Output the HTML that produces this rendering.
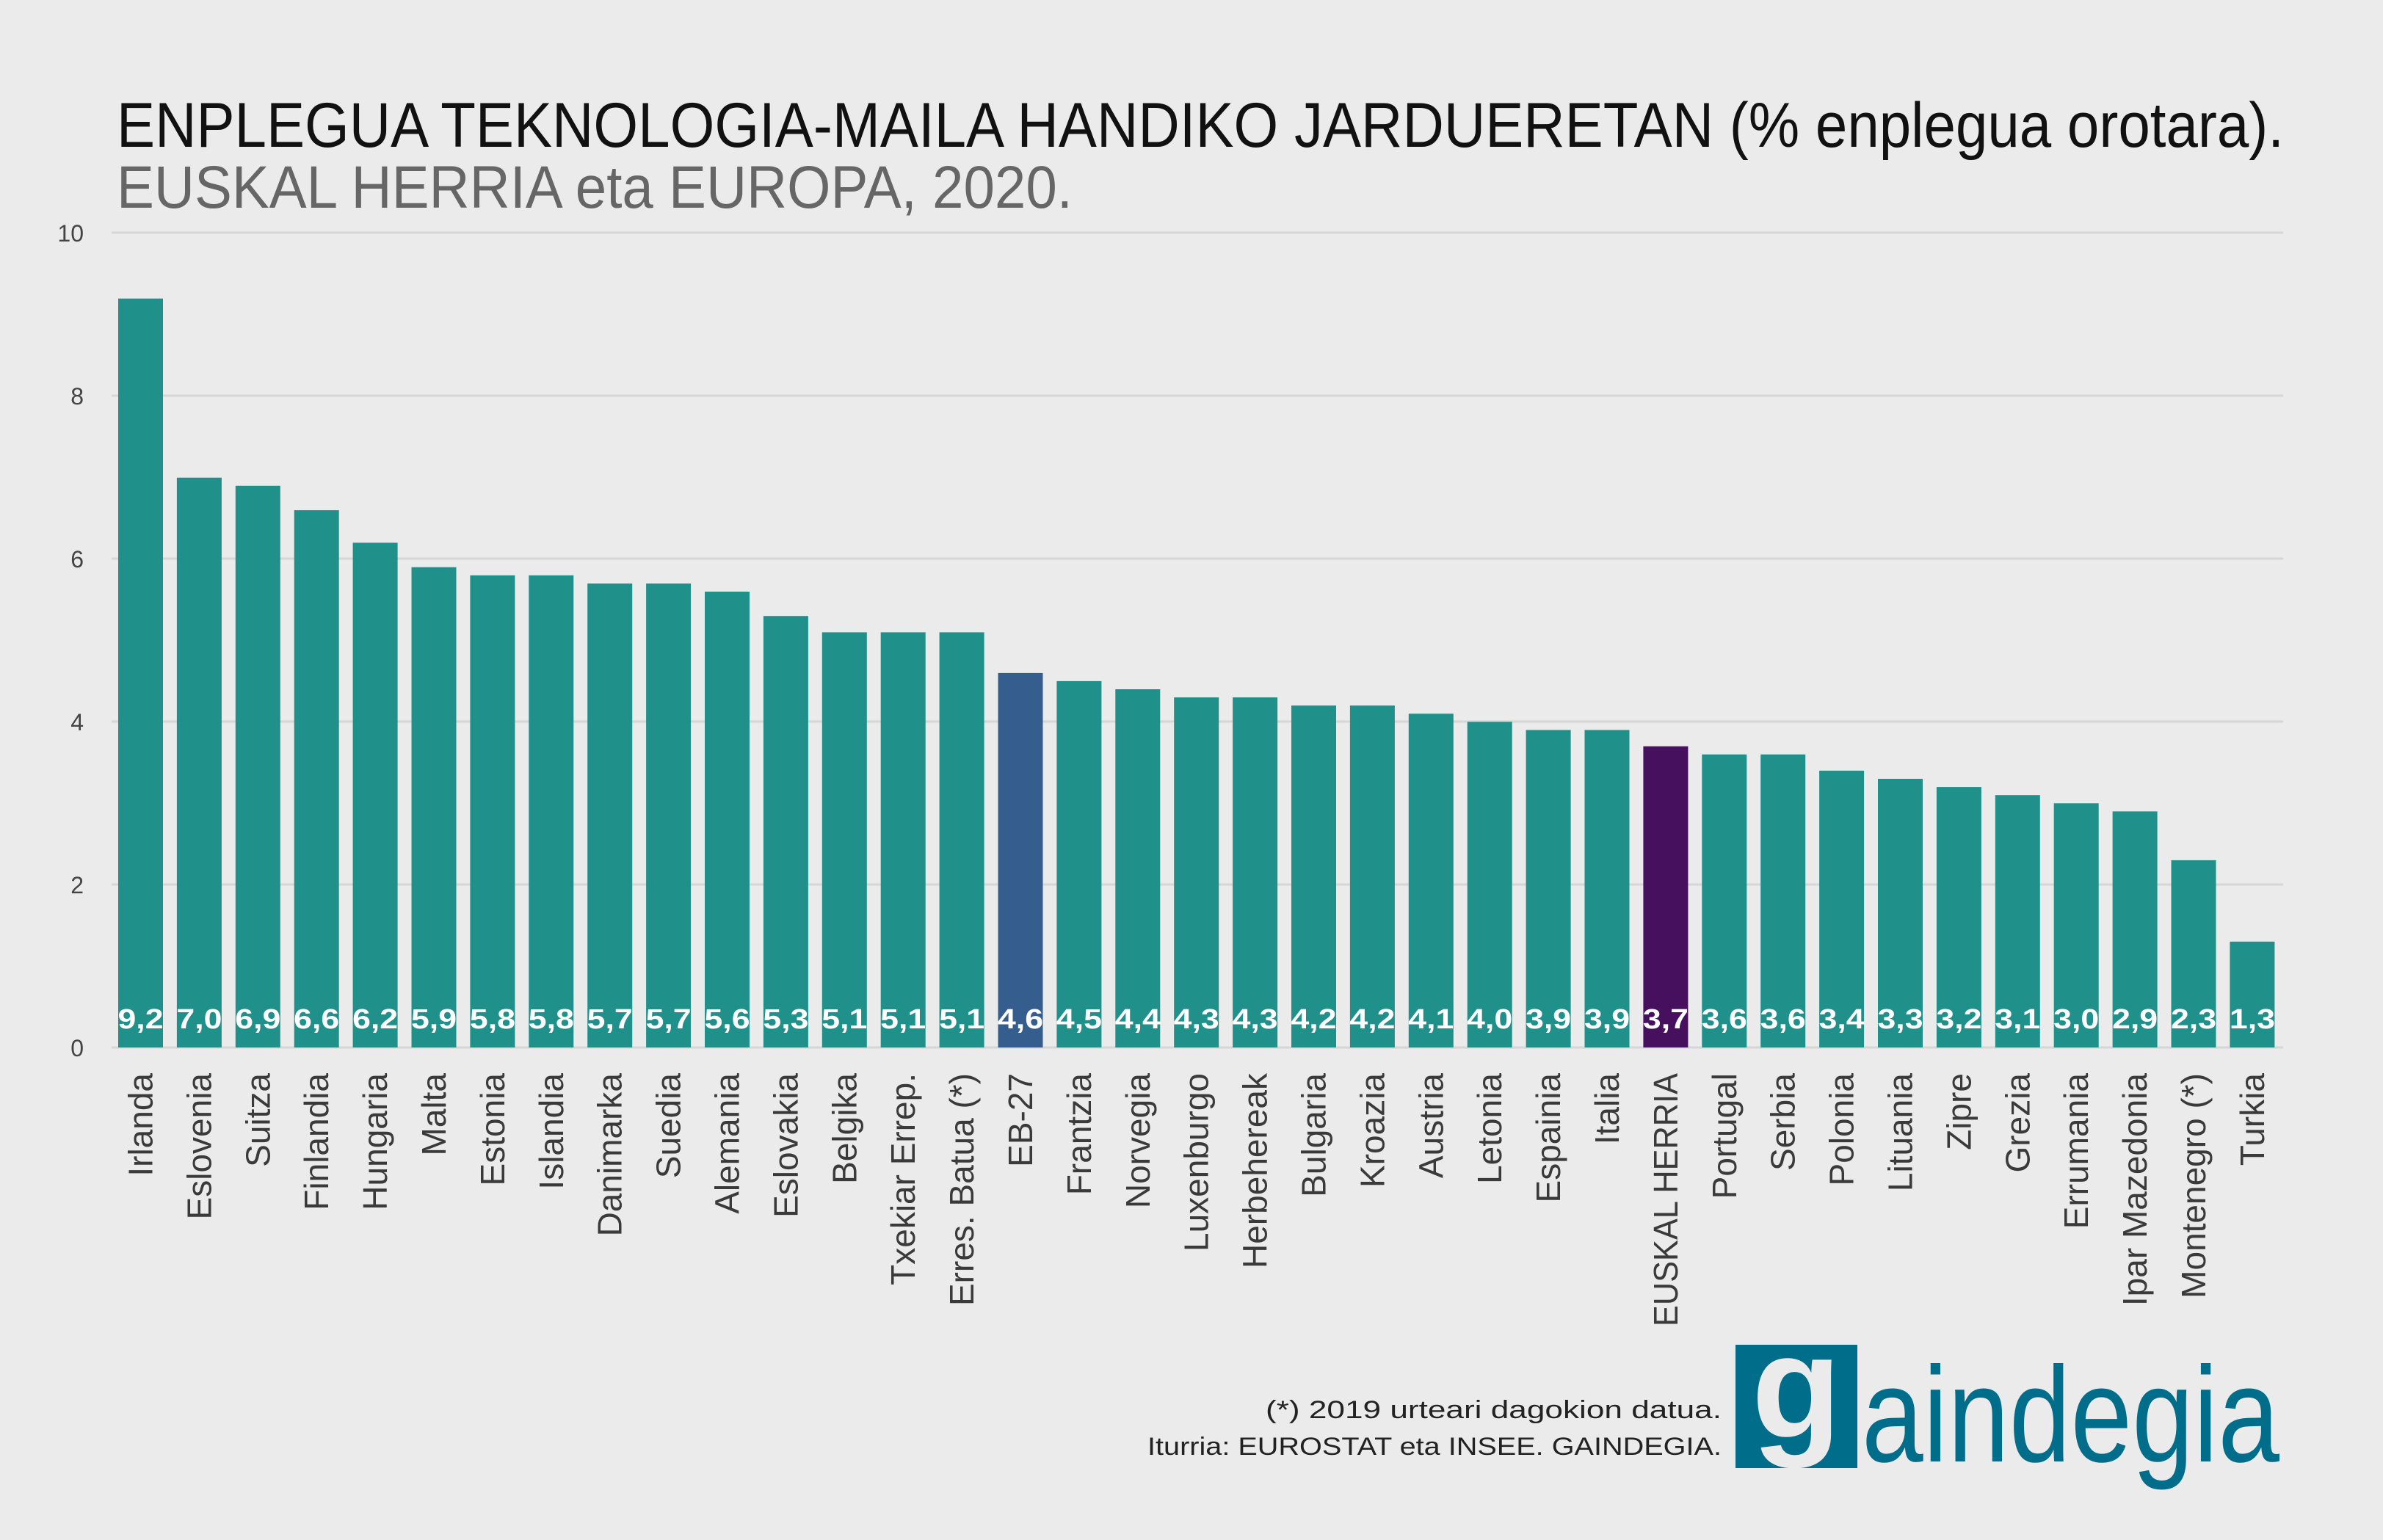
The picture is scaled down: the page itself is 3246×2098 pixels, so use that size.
<!DOCTYPE html>
<html><head><meta charset="utf-8"><style>html,body{margin:0;padding:0;background:#ebebeb}svg{display:block}</style></head>
<body>
<svg xmlns="http://www.w3.org/2000/svg" width="3246" height="2098" viewBox="0 0 3246 2098">
<rect width="3246" height="2098" fill="#ebebeb"/>
<text x="159" y="200" font-family="Liberation Sans, sans-serif" font-size="86" fill="#111" textLength="2952" lengthAdjust="spacingAndGlyphs">ENPLEGUA TEKNOLOGIA-MAILA HANDIKO JARDUERETAN (% enplegua orotara).</text>
<text x="159" y="283" font-family="Liberation Sans, sans-serif" font-size="82" fill="#666" textLength="1302" lengthAdjust="spacingAndGlyphs">EUSKAL HERRIA eta EUROPA, 2020.</text>
<g stroke="#d6d6d6" stroke-width="3">
<line x1="152" x2="3110" y1="317" y2="317"/><line x1="152" x2="3110" y1="539" y2="539"/><line x1="152" x2="3110" y1="761" y2="761"/><line x1="152" x2="3110" y1="983" y2="983"/><line x1="152" x2="3110" y1="1205" y2="1205"/><line x1="152" x2="3110" y1="1427" y2="1427"/>
</g>
<g font-family="Liberation Sans, sans-serif" font-size="32" fill="#444" text-anchor="end">
<text x="114" y="329">10</text><text x="114" y="551">8</text><text x="114" y="773">6</text><text x="114" y="995">4</text><text x="114" y="1217">2</text><text x="114" y="1439">0</text>
</g>
<g fill="#20908a">
<rect x="161.0" y="406.7" width="61" height="1020.3"/>
<rect x="240.9" y="650.7" width="61" height="776.3"/>
<rect x="320.8" y="661.8" width="61" height="765.2"/>
<rect x="400.7" y="695.1" width="61" height="731.9"/>
<rect x="480.6" y="739.4" width="61" height="687.6"/>
<rect x="560.5" y="772.7" width="61" height="654.3"/>
<rect x="640.4" y="783.8" width="61" height="643.2"/>
<rect x="720.3" y="783.8" width="61" height="643.2"/>
<rect x="800.2" y="794.9" width="61" height="632.1"/>
<rect x="880.1" y="794.9" width="61" height="632.1"/>
<rect x="960.0" y="806.0" width="61" height="621.0"/>
<rect x="1039.9" y="839.2" width="61" height="587.8"/>
<rect x="1119.8" y="861.4" width="61" height="565.6"/>
<rect x="1199.7" y="861.4" width="61" height="565.6"/>
<rect x="1279.6" y="861.4" width="61" height="565.6"/>
<rect x="1359.5" y="916.9" width="61" height="510.1" fill="#355e8e"/>
<rect x="1439.4" y="927.9" width="61" height="499.1"/>
<rect x="1519.3" y="939.0" width="61" height="488.0"/>
<rect x="1599.2" y="950.1" width="61" height="476.9"/>
<rect x="1679.1" y="950.1" width="61" height="476.9"/>
<rect x="1759.0" y="961.2" width="61" height="465.8"/>
<rect x="1838.9" y="961.2" width="61" height="465.8"/>
<rect x="1918.8" y="972.3" width="61" height="454.7"/>
<rect x="1998.7" y="983.4" width="61" height="443.6"/>
<rect x="2078.6" y="994.5" width="61" height="432.5"/>
<rect x="2158.5" y="994.5" width="61" height="432.5"/>
<rect x="2238.4" y="1016.7" width="61" height="410.3" fill="#46105e"/>
<rect x="2318.3" y="1027.8" width="61" height="399.2"/>
<rect x="2398.2" y="1027.8" width="61" height="399.2"/>
<rect x="2478.1" y="1049.9" width="61" height="377.1"/>
<rect x="2558.0" y="1061.0" width="61" height="366.0"/>
<rect x="2637.9" y="1072.1" width="61" height="354.9"/>
<rect x="2717.8" y="1083.2" width="61" height="343.8"/>
<rect x="2797.7" y="1094.3" width="61" height="332.7"/>
<rect x="2877.6" y="1105.4" width="61" height="321.6"/>
<rect x="2957.5" y="1171.9" width="61" height="255.1"/>
<rect x="3037.4" y="1282.8" width="61" height="144.2"/>
</g>
<g font-family="Liberation Sans, sans-serif" font-weight="bold" font-size="38" fill="#fff" text-anchor="middle">
<text x="191.5" y="1401" textLength="62" lengthAdjust="spacingAndGlyphs">9,2</text>
<text x="271.4" y="1401" textLength="62" lengthAdjust="spacingAndGlyphs">7,0</text>
<text x="351.3" y="1401" textLength="62" lengthAdjust="spacingAndGlyphs">6,9</text>
<text x="431.2" y="1401" textLength="62" lengthAdjust="spacingAndGlyphs">6,6</text>
<text x="511.1" y="1401" textLength="62" lengthAdjust="spacingAndGlyphs">6,2</text>
<text x="591.0" y="1401" textLength="62" lengthAdjust="spacingAndGlyphs">5,9</text>
<text x="670.9" y="1401" textLength="62" lengthAdjust="spacingAndGlyphs">5,8</text>
<text x="750.8" y="1401" textLength="62" lengthAdjust="spacingAndGlyphs">5,8</text>
<text x="830.7" y="1401" textLength="62" lengthAdjust="spacingAndGlyphs">5,7</text>
<text x="910.6" y="1401" textLength="62" lengthAdjust="spacingAndGlyphs">5,7</text>
<text x="990.5" y="1401" textLength="62" lengthAdjust="spacingAndGlyphs">5,6</text>
<text x="1070.4" y="1401" textLength="62" lengthAdjust="spacingAndGlyphs">5,3</text>
<text x="1150.3" y="1401" textLength="62" lengthAdjust="spacingAndGlyphs">5,1</text>
<text x="1230.2" y="1401" textLength="62" lengthAdjust="spacingAndGlyphs">5,1</text>
<text x="1310.1" y="1401" textLength="62" lengthAdjust="spacingAndGlyphs">5,1</text>
<text x="1390.0" y="1401" textLength="62" lengthAdjust="spacingAndGlyphs">4,6</text>
<text x="1469.9" y="1401" textLength="62" lengthAdjust="spacingAndGlyphs">4,5</text>
<text x="1549.8" y="1401" textLength="62" lengthAdjust="spacingAndGlyphs">4,4</text>
<text x="1629.7" y="1401" textLength="62" lengthAdjust="spacingAndGlyphs">4,3</text>
<text x="1709.6" y="1401" textLength="62" lengthAdjust="spacingAndGlyphs">4,3</text>
<text x="1789.5" y="1401" textLength="62" lengthAdjust="spacingAndGlyphs">4,2</text>
<text x="1869.4" y="1401" textLength="62" lengthAdjust="spacingAndGlyphs">4,2</text>
<text x="1949.3" y="1401" textLength="62" lengthAdjust="spacingAndGlyphs">4,1</text>
<text x="2029.2" y="1401" textLength="62" lengthAdjust="spacingAndGlyphs">4,0</text>
<text x="2109.1" y="1401" textLength="62" lengthAdjust="spacingAndGlyphs">3,9</text>
<text x="2189.0" y="1401" textLength="62" lengthAdjust="spacingAndGlyphs">3,9</text>
<text x="2268.9" y="1401" textLength="62" lengthAdjust="spacingAndGlyphs">3,7</text>
<text x="2348.8" y="1401" textLength="62" lengthAdjust="spacingAndGlyphs">3,6</text>
<text x="2428.7" y="1401" textLength="62" lengthAdjust="spacingAndGlyphs">3,6</text>
<text x="2508.6" y="1401" textLength="62" lengthAdjust="spacingAndGlyphs">3,4</text>
<text x="2588.5" y="1401" textLength="62" lengthAdjust="spacingAndGlyphs">3,3</text>
<text x="2668.4" y="1401" textLength="62" lengthAdjust="spacingAndGlyphs">3,2</text>
<text x="2748.3" y="1401" textLength="62" lengthAdjust="spacingAndGlyphs">3,1</text>
<text x="2828.2" y="1401" textLength="62" lengthAdjust="spacingAndGlyphs">3,0</text>
<text x="2908.1" y="1401" textLength="62" lengthAdjust="spacingAndGlyphs">2,9</text>
<text x="2988.0" y="1401" textLength="62" lengthAdjust="spacingAndGlyphs">2,3</text>
<text x="3067.9" y="1401" textLength="62" lengthAdjust="spacingAndGlyphs">1,3</text>
</g>
<g font-family="Liberation Sans, sans-serif" font-size="46" fill="#3a3a3a" text-anchor="end">
<text transform="translate(207.5,1462) rotate(-90)">Irlanda</text>
<text transform="translate(287.4,1462) rotate(-90)">Eslovenia</text>
<text transform="translate(367.3,1462) rotate(-90)">Suitza</text>
<text transform="translate(447.2,1462) rotate(-90)">Finlandia</text>
<text transform="translate(527.1,1462) rotate(-90)">Hungaria</text>
<text transform="translate(607.0,1462) rotate(-90)">Malta</text>
<text transform="translate(686.9,1462) rotate(-90)">Estonia</text>
<text transform="translate(766.8,1462) rotate(-90)">Islandia</text>
<text transform="translate(846.7,1462) rotate(-90)">Danimarka</text>
<text transform="translate(926.6,1462) rotate(-90)">Suedia</text>
<text transform="translate(1006.5,1462) rotate(-90)">Alemania</text>
<text transform="translate(1086.4,1462) rotate(-90)">Eslovakia</text>
<text transform="translate(1166.3,1462) rotate(-90)">Belgika</text>
<text transform="translate(1246.2,1462) rotate(-90)">Txekiar Errep.</text>
<text transform="translate(1326.1,1462) rotate(-90)">Erres. Batua (*)</text>
<text transform="translate(1406.0,1462) rotate(-90)">EB-27</text>
<text transform="translate(1485.9,1462) rotate(-90)">Frantzia</text>
<text transform="translate(1565.8,1462) rotate(-90)">Norvegia</text>
<text transform="translate(1645.7,1462) rotate(-90)">Luxenburgo</text>
<text transform="translate(1725.6,1462) rotate(-90)">Herbehereak</text>
<text transform="translate(1805.5,1462) rotate(-90)">Bulgaria</text>
<text transform="translate(1885.4,1462) rotate(-90)">Kroazia</text>
<text transform="translate(1965.3,1462) rotate(-90)">Austria</text>
<text transform="translate(2045.2,1462) rotate(-90)">Letonia</text>
<text transform="translate(2125.1,1462) rotate(-90)">Espainia</text>
<text transform="translate(2205.0,1462) rotate(-90)">Italia</text>
<text transform="translate(2284.9,1462) rotate(-90)" textLength="345" lengthAdjust="spacingAndGlyphs">EUSKAL HERRIA</text>
<text transform="translate(2364.8,1462) rotate(-90)">Portugal</text>
<text transform="translate(2444.7,1462) rotate(-90)">Serbia</text>
<text transform="translate(2524.6,1462) rotate(-90)">Polonia</text>
<text transform="translate(2604.5,1462) rotate(-90)">Lituania</text>
<text transform="translate(2684.4,1462) rotate(-90)">Zipre</text>
<text transform="translate(2764.3,1462) rotate(-90)">Grezia</text>
<text transform="translate(2844.2,1462) rotate(-90)">Errumania</text>
<text transform="translate(2924.1,1462) rotate(-90)">Ipar Mazedonia</text>
<text transform="translate(3004.0,1462) rotate(-90)">Montenegro (*)</text>
<text transform="translate(3083.9,1462) rotate(-90)">Turkia</text>
</g>
<g font-family="Liberation Sans, sans-serif" font-size="34" fill="#222" text-anchor="end">
<text x="2345" y="1932" textLength="621" lengthAdjust="spacingAndGlyphs">(*) 2019 urteari dagokion datua.</text>
<text x="2345" y="1982" textLength="782" lengthAdjust="spacingAndGlyphs">Iturria: EUROSTAT eta INSEE. GAINDEGIA.</text>
</g>
<rect x="2364" y="1832" width="166" height="168" fill="#006e8a"/>
<text x="2447" y="1958" text-anchor="middle" font-family="Liberation Sans, sans-serif" font-size="200" font-weight="bold" fill="#ebebeb">g</text>
<text x="2536" y="1991" font-family="Liberation Sans, sans-serif" font-size="185" fill="#006e8a" textLength="569" lengthAdjust="spacingAndGlyphs">aindegia</text>
</svg>
</body></html>
